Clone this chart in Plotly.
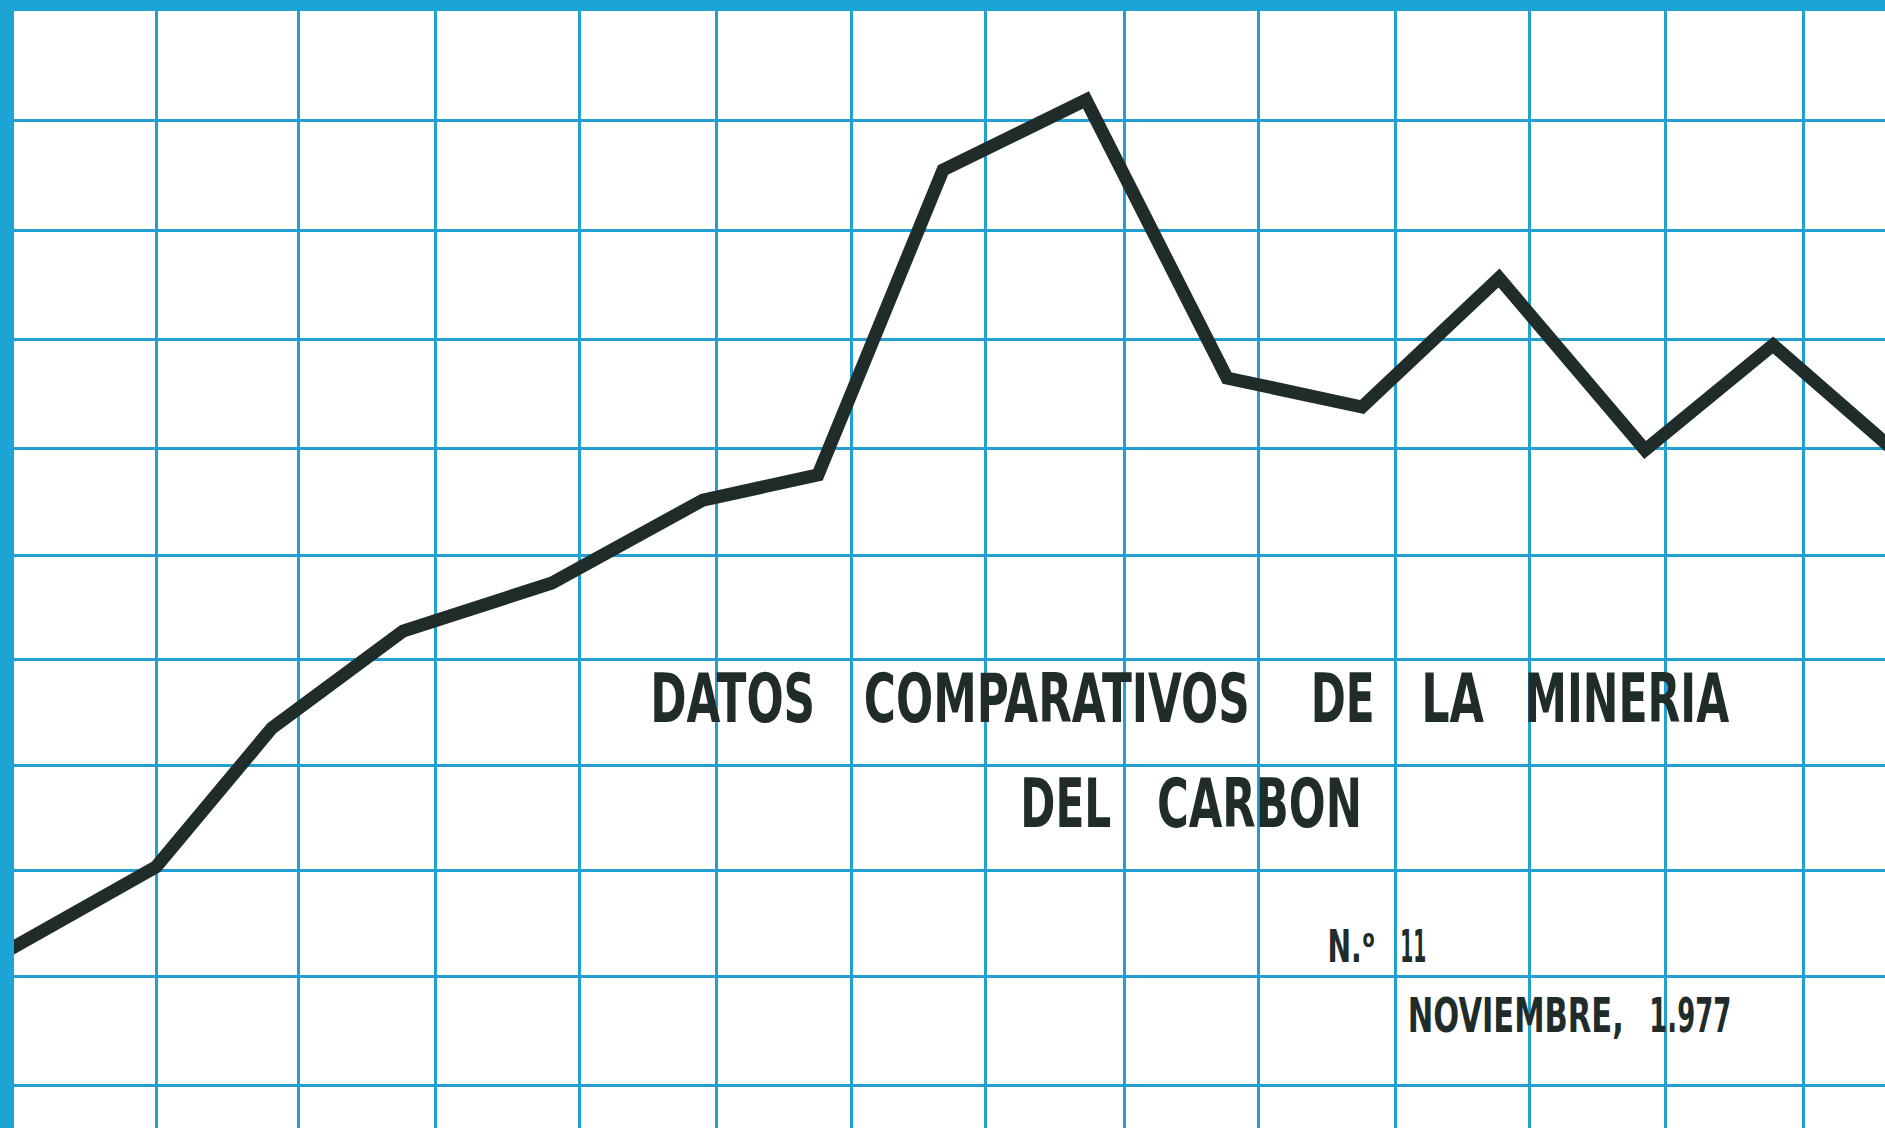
import plotly.graph_objects as go

# ---- data (grid-cell units) ----
periodo = [-1.10, 0.0, 0.845, 1.800, 2.885, 3.985, 4.823, 5.734, 6.776, 7.803, 8.787, 9.785, 10.849, 11.781, 12.70]
valor = [1.25, 2.043, 3.340, 4.244, 4.692, 5.466, 5.700, 8.545, 9.198, 6.604, 6.334, 7.537, 5.933, 6.912, 5.886]

grid_x = [0, 1.035, 2.033, 3.082, 4.080, 5.064, 6.047, 7.053, 8.036, 9.027, 10.004, 10.995, 12.000]
grid_y = [0, 1.017, 2.006, 2.994, 3.974, 4.953, 5.951, 6.968, 7.976, 9.002]

titulo_l1 = ["DATOS", "COMPARATIVOS", "DE", "LA", "MINERIA"]
titulo_l2 = ["DEL", "CARBON"]
numero = ["N.\u1d52", "11"]
fecha = ["NOVIEMBRE,", "1.977"]

# ---- styling / layout ----
W, H = 1885, 1128
L, T = 14, 11
BORDER = "#1da4d6"
GRID = "#22a0d2"
INK = "#1f2c2a"
FONT = "DejaVu Sans Condensed, DejaVu Sans, sans-serif"


def px_x(px):
    return (px - L) / (W - L)


def px_y(py):
    return (H - py) / (H - T)


fig = go.Figure()
fig.add_trace(go.Scatter(
    x=periodo, y=valor, mode="lines",
    line=dict(color=INK, width=13),
    hoverinfo="skip", showlegend=False,
))

# (words, centre x px, centre y px, font size, target width px)
blocks = [
    (titulo_l1, [732, 1057, 1342, 1452, 1627], 699, 67, [165, 386, 64, 63, 205]),
    (titulo_l2, [1066, 1259], 804, 67, [91, 205]),
    (numero, [1351, 1413], 946, 45, [48, 26]),
    (fecha, [1516, 1690], 1015, 48, [216, 82]),
]

annotations = []
widths = []
for words, centers, cy, size, tw in blocks:
    for word, cx, w in zip(words, centers, tw):
        annotations.append(dict(text=f"<b>{word}</b>", x=px_x(cx), y=px_y(cy), xref="paper", yref="paper",
                                xanchor="center", yanchor="middle", showarrow=False,
                                font=dict(family=FONT, size=size, color=INK)))
        widths.append(w)

fig.update_layout(
    width=W, height=H,
    margin=dict(l=L, t=T, r=0, b=0, pad=0),
    paper_bgcolor=BORDER,
    plot_bgcolor="white",
    annotations=annotations,
    showlegend=False,
    xaxis=dict(range=[-1.0346, 12.597], tickvals=grid_x, showticklabels=False, ticks="",
               showgrid=True, gridcolor=GRID, gridwidth=2.5, zeroline=False, showline=False,
               fixedrange=True),
    yaxis=dict(range=[-0.392, 10.028], tickvals=grid_y, showticklabels=False, ticks="",
               showgrid=True, gridcolor=GRID, gridwidth=2.5, zeroline=False, showline=False,
               fixedrange=True),
)

post = """
document.body.style.margin = '0';
document.body.style.overflow = 'hidden';
var gd = document.getElementById('{plot_id}');
var targets = %s;
gd.querySelectorAll('g.annotation').forEach(function(g) {
  var i = +g.getAttribute('data-index');
  var t = g.querySelector('text.annotation-text');
  if (!t || !targets[i]) return;
  var bb = t.getBBox();
  if (!bb.width) return;
  var s = targets[i] / bb.width;
  var cx = bb.x + bb.width / 2;
  var old = t.getAttribute('transform') || '';
  t.setAttribute('transform', old + ' translate(' + cx + ',0) scale(' + s + ',1) translate(' + (-cx) + ',0)');
});
""" % str(widths)

fig.write_html("out.html", config={"displayModeBar": False}, post_script=post)
